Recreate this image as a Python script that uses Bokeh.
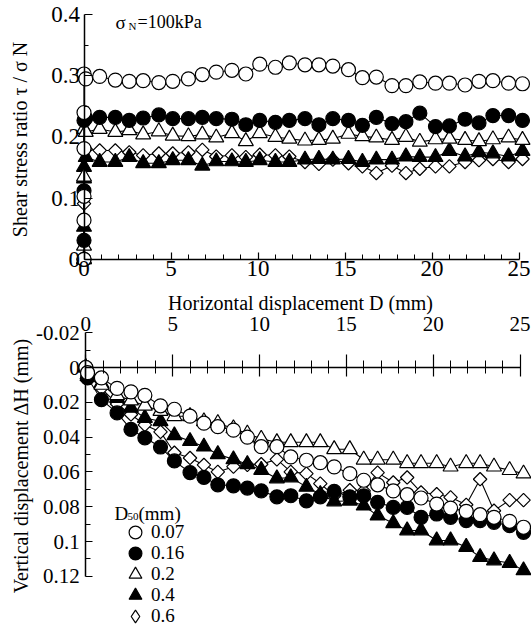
import math
from bokeh.plotting import figure
from bokeh.models import Range1d, LinearAxis, FixedTicker, Label, Legend, LegendItem
from bokeh.layouts import column
from bokeh.embed import file_html
from bokeh.resources import INLINE

FONT = "Liberation Serif"

# ---------------- data ----------------
D_GRID = [0.1, 0.9, 1.8, 2.6, 3.4, 4.3, 5.1, 6.0, 6.8, 7.6, 8.5, 9.3, 10.1, 11.0, 11.8,
          12.7, 13.5, 14.3, 15.2, 16.0, 16.8, 17.7, 18.5, 19.3, 20.2, 21.0, 21.9, 22.7,
          23.5, 24.4, 25.2]

SERIES_LABELS = ["0.07", "0.16", "0.2", "0.4", "0.6"]

# shear stress ratio: initial vertical rise at D = 0, then the test curve
RISE_X_007 = [0, 0, 0, 0, 0, 0]
RISE_007 = [0.0, 0.064, 0.103, 0.181, 0.240, 0.303]
TAU_007 = [0.295, 0.299, 0.293, 0.291, 0.292, 0.289, 0.291, 0.295, 0.302, 0.306, 0.309,
           0.303, 0.319, 0.314, 0.321, 0.318, 0.318, 0.316, 0.310, 0.297, 0.298, 0.284,
           0.284, 0.290, 0.288, 0.288, 0.285, 0.291, 0.292, 0.288, 0.287]

RISE_X_016 = [0, 0, 0, 0]
RISE_016 = [0.0, 0.031, 0.112, 0.227]
TAU_016 = [0.231, 0.232, 0.232, 0.227, 0.231, 0.236, 0.230, 0.230, 0.232, 0.230, 0.229,
           0.220, 0.227, 0.224, 0.227, 0.230, 0.220, 0.230, 0.227, 0.219, 0.232, 0.222,
           0.225, 0.239, 0.217, 0.218, 0.229, 0.223, 0.235, 0.235, 0.227]

RISE_X_02 = [0, 0, 0, 0]
RISE_02 = [0.0, 0.022, 0.135, 0.213]
TAU_02 = [0.208, 0.213, 0.208, 0.211, 0.204, 0.209, 0.202, 0.201, 0.204, 0.199, 0.206,
          0.193, 0.206, 0.200, 0.197, 0.194, 0.195, 0.197, 0.205, 0.201, 0.199, 0.195,
          0.200, 0.192, 0.196, 0.197, 0.195, 0.193, 0.196, 0.199, 0.195]

RISE_X_04 = [0, 0, 0, 0]
RISE_04 = [0.0, 0.053, 0.132, 0.151]
TAU_04 = [0.167, 0.159, 0.159, 0.167, 0.157, 0.157, 0.162, 0.162, 0.153, 0.160, 0.160,
          0.159, 0.162, 0.159, 0.159, 0.163, 0.164, 0.163, 0.164, 0.159, 0.163, 0.163,
          0.168, 0.167, 0.167, 0.177, 0.168, 0.175, 0.173, 0.168, 0.177]

RISE_X_06 = [0, 0]
RISE_06 = [0.0, 0.091]
TAU_06 = [0.180, 0.178, 0.178, 0.175, 0.170, 0.173, 0.173, 0.175, 0.179, 0.168, 0.170,
          0.167, 0.171, 0.170, 0.168, 0.159, 0.156, 0.163, 0.157, 0.152, 0.141, 0.153,
          0.141, 0.148, 0.152, 0.152, 0.159, 0.162, 0.164, 0.159, 0.164]

# vertical displacement (mm), all start at the origin
ORIGIN_X = [0]
ORIGIN_Y = [0.0]
DH_007 = [0.003, 0.006, 0.012, 0.014, 0.016, 0.022, 0.024, 0.028, 0.032, 0.034, 0.036,
          0.040, 0.0455, 0.0455, 0.0514, 0.0533, 0.0547, 0.0571, 0.061, 0.0648, 0.0674,
          0.0709, 0.0731, 0.075, 0.0785, 0.0808, 0.0827, 0.0846, 0.0861, 0.0884, 0.0918]
DH_016 = [0.006, 0.0185, 0.0261, 0.0356, 0.0404, 0.0457, 0.0537, 0.0604, 0.0632, 0.0674,
          0.068, 0.0693, 0.0709, 0.0743, 0.0737, 0.0766, 0.0743, 0.0712, 0.0743, 0.0737,
          0.0775, 0.0804, 0.0804, 0.0861, 0.0842, 0.0861, 0.088, 0.088, 0.089, 0.0909, 0.0947]
DH_02 = [0.004, 0.010, 0.016, 0.019, 0.022, 0.025, 0.028, 0.028, 0.031, 0.032, 0.035,
         0.038, 0.041, 0.043, 0.043, 0.043, 0.043, 0.047, 0.047, 0.053, 0.053, 0.053,
         0.055, 0.055, 0.055, 0.057, 0.055, 0.055, 0.057, 0.059, 0.061]
DH_04 = [0.005, 0.009, 0.0175, 0.0232, 0.029, 0.0309, 0.039, 0.0423, 0.0455, 0.0499,
         0.0528, 0.0556, 0.0589, 0.0638, 0.0632, 0.0686, 0.0728, 0.077, 0.0766, 0.0794,
         0.0851, 0.0895, 0.0937, 0.0937, 0.0994, 0.0994, 0.1032, 0.109, 0.1109, 0.1124, 0.1166]
DH_06 = [0.004, 0.012, 0.021, 0.027, 0.033, 0.037, 0.049, 0.052, 0.056, 0.060, 0.057,
         0.056, 0.0556, 0.0528, 0.060, 0.061, 0.0667, 0.0737, 0.0705, 0.0709, 0.0604,
         0.0661, 0.0632, 0.0718, 0.0728, 0.0746, 0.0789, 0.0642, 0.0823, 0.0762, 0.0762]

X_TICKS = [0, 5, 10, 15, 20, 25]
X_MINOR = [1, 2, 3, 4, 6, 7, 8, 9, 11, 12, 13, 14, 16, 17, 18, 19, 21, 22, 23, 24]
Y_TICKS_TOP = [0, 0.1, 0.2, 0.3, 0.4]
Y_LABELS_TOP = ["0", "0.1", "0.2", "0.3", "0.4"]
Y_MINOR_TOP = [0.05, 0.15, 0.25, 0.35]
Y_TICKS_BOT = [-0.02, 0, 0.02, 0.04, 0.06, 0.08, 0.1, 0.12]
Y_LABELS_BOT = ["-0.02", "0", "0.02", "0.04", "0.06", "0.08", "0.1", "0.12"]
Y_MINOR_BOT = [-0.01, 0.01, 0.03, 0.05, 0.07, 0.09, 0.11]

# marker styles per series
STYLES = [
    dict(marker="circle", fill_color="white", size=14, angle=0),
    dict(marker="circle", fill_color="black", size=14, angle=0),
    dict(marker="triangle", fill_color="white", size=15, angle=0),
    dict(marker="triangle", fill_color="black", size=15, angle=0),
    dict(marker="square", fill_color="white", size=9.5, angle=math.pi / 4),
]

W = 531


def style_axis(ax, tick_size):
    ax.axis_line_color = "black"
    ax.axis_line_width = 1.5
    ax.major_tick_line_color = "black"
    ax.major_tick_line_width = 1.2
    ax.minor_tick_line_color = "black"
    ax.minor_tick_line_width = 1.0
    ax.major_label_text_font = FONT
    ax.major_label_text_font_size = tick_size
    ax.major_label_text_color = "black"
    ax.axis_label_text_font = FONT
    ax.axis_label_text_font_size = "20px"
    ax.axis_label_text_font_style = "normal"
    ax.axis_label_text_color = "black"


def base_fig(x_range, y_range, h):
    p = figure(frame_width=W, frame_height=h,
               x_range=x_range, y_range=y_range,
               min_border=0,
               x_axis_location=None, y_axis_location=None,
               output_backend="svg", toolbar_location=None)
    p.xgrid.visible = False
    p.ygrid.visible = False
    p.outline_line_color = None
    p.background_fill_color = "white"
    p.border_fill_color = "white"
    return p


def draw_series(p, xs, ys, st):
    p.line(xs, ys, line_color="black", line_width=1.1)
    return p.scatter(xs, ys, marker=st["marker"], size=st["size"], angle=st["angle"],
                     fill_color=st["fill_color"], line_color="black", line_width=1.2)


# ---------------- top panel ----------------
# x: 0 -> 83.5 px, 17.4 px/mm ; y: 0 -> 259 px from top, 611.6 px per unit
top = base_fig(Range1d(-4.799, 25.718), Range1d(-0.05102, 0.42315), 290)

yax = LinearAxis(fixed_location=0, bounds=(0, 0.4),
                 ticker=FixedTicker(ticks=Y_TICKS_TOP, minor_ticks=Y_MINOR_TOP),
                 major_label_overrides=dict(zip(Y_TICKS_TOP, Y_LABELS_TOP)),
                 axis_label="Shear stress ratio  τ / σ N")
style_axis(yax, "23px")
yax.major_tick_in = 8
yax.major_tick_out = 0
yax.minor_tick_in = 4
yax.minor_tick_out = 0
yax.major_label_standoff = 4
yax.axis_label_standoff = 18
top.add_layout(yax, "left")

xax = LinearAxis(fixed_location=0, bounds=(0, 25),
                 ticker=FixedTicker(ticks=X_TICKS, minor_ticks=X_MINOR))
style_axis(xax, "23px")
xax.major_tick_in = 7
xax.major_tick_out = 0
xax.minor_tick_in = 5
xax.minor_tick_out = 0
xax.major_label_standoff = 2
top.add_layout(xax, "below")

series_top = [
    (RISE_X_007 + D_GRID, RISE_007 + TAU_007),
    (RISE_X_016 + D_GRID, RISE_016 + TAU_016),
    (RISE_X_02 + D_GRID, RISE_02 + TAU_02),
    (RISE_X_04 + D_GRID, RISE_04 + TAU_04),
    (RISE_X_06 + D_GRID, RISE_06 + TAU_06),
]
for i in [4, 3, 2, 1, 0]:
    xs, ys = series_top[i]
    draw_series(top, xs, ys, STYLES[i])

for txt, x, y, size in [("σ", 115, 268.5, "19px"), ("N", 128, 265, "11px"),
                        ("=100kPa", 137, 268.5, "18px")]:
    top.add_layout(Label(x=x, y=y, x_units="screen", y_units="screen", text=txt,
                         text_font=FONT, text_font_size=size, text_color="black",
                         text_baseline="alphabetic"))

# ---------------- bottom panel ----------------
# x: 0 -> 85.3 px, 17.37 px/mm ; y: 0 -> 77 px from top, 1740 px per unit
BH = 338
bot = base_fig(Range1d(-4.911, 25.659), Range1d(start=0.15, end=-0.044253), BH)

lax = LinearAxis(fixed_location=0, bounds=(-0.02, 0.12),
                 ticker=FixedTicker(ticks=Y_TICKS_BOT, minor_ticks=Y_MINOR_BOT),
                 major_label_overrides=dict(zip(Y_TICKS_BOT, Y_LABELS_BOT)))
style_axis(lax, "21px")
lax.major_tick_in = 7
lax.major_tick_out = 0
lax.minor_tick_in = 5
lax.minor_tick_out = 0
lax.major_label_standoff = 6
bot.add_layout(lax, "left")

bot.add_layout(Label(x=20, y=165, x_units="screen", y_units="screen",
                     text="Vertical displacement  ΔH (mm)", angle=math.pi / 2,
                     text_align="center", text_baseline="middle",
                     text_font=FONT, text_font_size="20px", text_color="black"))

tax = LinearAxis(fixed_location=0, bounds=(0, 25),
                 ticker=FixedTicker(ticks=X_TICKS, minor_ticks=X_MINOR),
                 axis_label="Horizontal displacement  D (mm)")
style_axis(tax, "21px")
tax.major_tick_in = 9
tax.major_tick_out = 13
tax.minor_tick_in = 6
tax.minor_tick_out = 7
tax.major_label_standoff = 24
tax.axis_label_standoff = 0
bot.add_layout(tax, "above")

series_bot = [
    (ORIGIN_X + D_GRID, ORIGIN_Y + DH_007),
    (ORIGIN_X + D_GRID, ORIGIN_Y + DH_016),
    (ORIGIN_X + D_GRID, ORIGIN_Y + DH_02),
    (ORIGIN_X + D_GRID, ORIGIN_Y + DH_04),
    (ORIGIN_X + D_GRID, ORIGIN_Y + DH_06),
]
renderers = {}
for i in [4, 3, 2, 1, 0]:
    xs, ys = series_bot[i]
    if i == 4:
        # narrow diamond underneath the rotated squares, used as legend glyph
        renderers["leg6"] = bot.scatter(xs, ys, marker="diamond", size=12,
                                        fill_color="white", line_color="black",
                                        line_width=1.2)
    renderers[i] = draw_series(bot, xs, ys, STYLES[i])

leg_renderers = [renderers[0], renderers[1], renderers[2], renderers[3], renderers["leg6"]]
ROW_CENTERS = [532, 553, 574, 595, 616]   # page y of each legend row
for i in range(5):
    y_bottom = BH - (ROW_CENTERS[i] - 290 + 16)
    leg = Legend(items=[LegendItem(label=SERIES_LABELS[i], renderers=[leg_renderers[i]])],
                 location=(119, y_bottom), glyph_width=32, glyph_height=32,
                 label_standoff=0, padding=0, margin=0, spacing=0,
                 border_line_alpha=0, background_fill_alpha=0,
                 label_text_font=FONT, label_text_font_size="19px",
                 label_text_color="black")
    bot.add_layout(leg)

for txt, x, y, size in [("D", 114, 115, "19px"), ("50", 127, 112, "11px"),
                        ("(mm)", 138, 115, "19px")]:
    bot.add_layout(Label(x=x, y=y, x_units="screen", y_units="screen", text=txt,
                         text_font=FONT, text_font_size=size, text_color="black",
                         text_baseline="alphabetic"))

layout = column(top, bot, spacing=0)
open("out.html", "w").write(file_html(layout, INLINE, title="Shear test"))
